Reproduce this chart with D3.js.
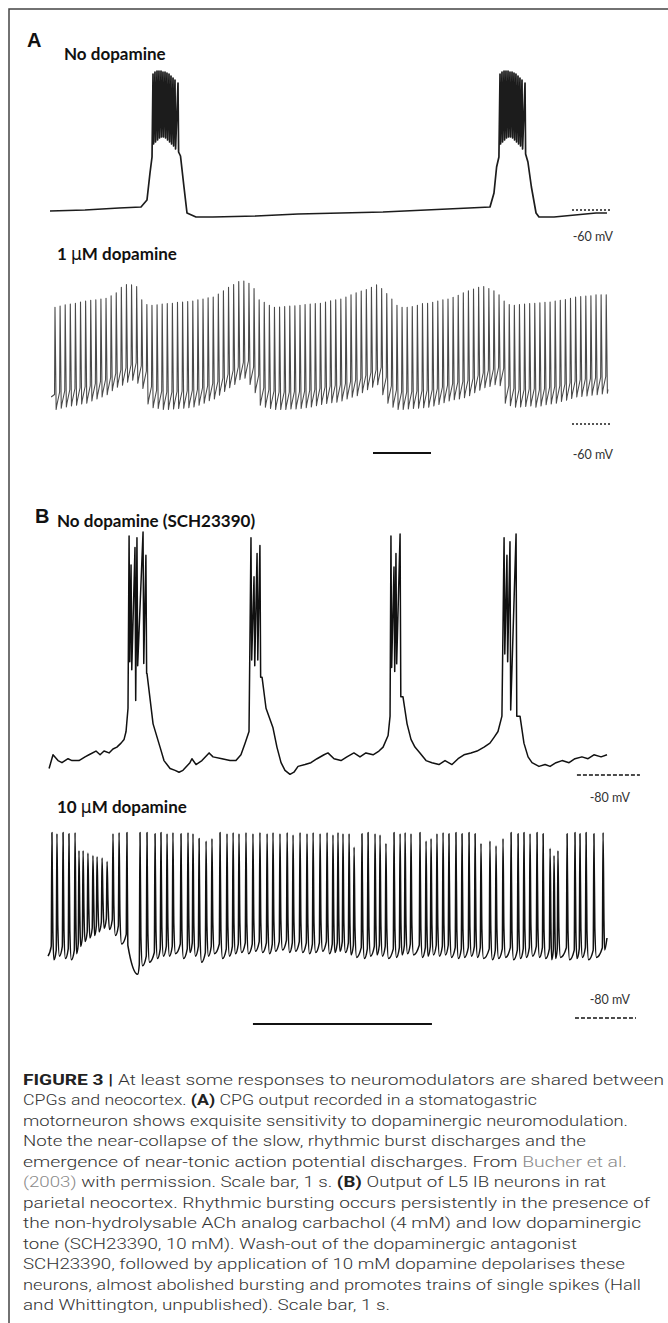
<!DOCTYPE html>
<html>
<head>
<meta charset="utf-8">
<script src="https://d3js.org/d3.v7.min.js"></script>
<style>
html, body { margin: 0; padding: 0; background: #fff; }
svg { display: block; }
</style>
</head>
<body>
<div id="fig"></div>
<script>
// --- A, top trace: no dopamine. slow membrane potential [ms, mV]
var a1Slow = [[0,-60.5],[603,-60],[1190,-59],[1569,-58.5],[1672,-55],[1724,-41.5],[1759,-33.5],
    [2250,-33],[2310,-48.5],[2362,-61.5],[2517,-63.5],[2810,-63.5],[3552,-63],[4276,-62],[5017,-61.5],
    [5741,-61],[6483,-60],[7224,-59],[7586,-58.5],[7655,-51.5],[7700,-38.5],[7740,-33.5],
    [8240,-36],[8300,-48.5],[8380,-61.5],[8431,-63.5],[8690,-63.5],[9052,-62.5],[9414,-61.5],[9603,-61.5]];
// burst spikes [ms, peak mV, trough mV]
var a1Burst1 = [[1776,8,-27],[1810,9,-26],[1845,9.5,-25],[1879,9.5,-24],[1914,9.5,-23.5],[1948,9,-23.5],
    [1983,9,-24],[2017,8.5,-25],[2052,8,-26],[2086,7,-27],[2121,6,-28],[2155,5,-29.5],[2207,3.5,-31]];
var a1Burst2 = [[7759,8,-27],[7793,9,-26],[7828,9.5,-25],[7862,9.5,-24],[7897,9.5,-23.5],[7931,9,-23.5],
    [7966,9,-24],[8000,8.5,-25],[8034,8,-26],[8069,7,-27],[8103,6,-28],[8138,5,-29.5],[8190,3.5,-32]];

// --- A, bottom trace: 1 uM dopamine, tonic spiking
var a2Times = [86,174,262,350,438,526,614,702,790,878,
    966,1054,1142,1230,1318,1406,1494,1582,1670,1758,
    1846,1934,2022,2110,2198,2286,2374,2462,2550,2638,
    2726,2814,2902,2990,3078,3166,3254,3342,3430,3518,
    3606,3694,3782,3870,3958,4046,4134,4222,4310,4398,
    4486,4574,4662,4750,4838,4926,5014,5102,5190,5278,
    5366,5454,5542,5630,5718,5806,5894,5982,6070,6158,
    6246,6334,6422,6510,6598,6686,6774,6862,6950,7038,
    7126,7214,7302,7390,7478,7566,7654,7742,7830,7918,
    8006,8094,8182,8270,8358,8446,8534,8622,8710,8798,
    8886,8974,9062,9150,9238,9326,9414,9502,9590];
var a2Peaks = [-13.3,-12.8,-12.3,-12.0,-11.7,-11.2,-10.8,-10.5,-10.3,-10.0,
    -9.7,-8.7,-7.5,-5.3,-4.2,-4.3,-5.0,-10.3,-12.2,-12.5,
    -12.3,-12.0,-11.8,-11.7,-11.3,-11.2,-11.0,-10.8,-10.3,-10.0,
    -9.5,-9.2,-8.0,-6.7,-5.3,-4.2,-3.0,-2.8,-3.7,-5.8,
    -10.3,-11.3,-12.5,-13.3,-13.2,-13.0,-12.8,-12.7,-12.5,-12.2,
    -12.0,-11.8,-11.7,-11.2,-10.7,-10.3,-10.0,-9.2,-8.3,-7.5,
    -6.8,-6.2,-5.3,-4.3,-5.8,-7.8,-10.0,-12.5,-13.3,-13.3,
    -13.0,-12.5,-11.8,-11.7,-11.3,-10.8,-10.3,-10.0,-9.3,-8.5,
    -7.5,-6.7,-6.0,-5.3,-5.0,-5.8,-6.7,-8.3,-10.8,-12.2,
    -12.5,-12.2,-12.0,-11.8,-11.7,-11.5,-11.3,-11.2,-10.8,-10.5,
    -10.2,-9.7,-9.2,-9.0,-8.8,-8.7,-8.3,-8.3,-8.3];
var a2Troughs = [-54.2,-53.7,-53.2,-52.8,-52.5,-52.0,-51.7,-50.8,-50.0,-49.2,
    -48.3,-46.7,-45.3,-44.5,-43.3,-42.5,-43.7,-45.8,-52.0,-53.5,
    -53.8,-54.2,-54.2,-54.0,-53.8,-53.7,-53.5,-53.2,-52.5,-51.7,
    -50.7,-50.0,-48.5,-47.0,-45.5,-44.2,-42.3,-41.7,-44.2,-47.5,
    -52.5,-53.3,-53.8,-54.2,-54.2,-54.2,-54.0,-54.0,-53.8,-53.5,
    -53.2,-52.7,-52.2,-51.8,-51.5,-51.3,-50.8,-50.0,-49.3,-48.7,
    -47.5,-46.3,-45.3,-44.3,-48.3,-51.7,-53.3,-54.2,-54.2,-54.0,
    -53.8,-53.7,-53.5,-53.3,-52.8,-52.2,-51.5,-50.8,-50.3,-50.0,
    -49.5,-48.7,-47.5,-46.5,-45.5,-45.0,-44.3,-44.7,-51.7,-52.7,
    -53.3,-53.2,-53.0,-52.8,-53.3,-52.8,-52.3,-52.0,-51.7,-51.0,
    -50.5,-49.8,-49.2,-49.0,-48.8,-48.5,-48.3,-48.0,-47.7];

// --- B, top trace: no dopamine (SCH23390), slow potential [ms, mV]
var b1Slow = [[6,-77.2],[28,-71.3],[56,-73.8],[78,-74.7],[112,-73],[134,-73.8],[173,-73.8],[207,-72.2],
    [229,-71.3],[268,-69.7],[291,-71.3],[313,-69.7],[341,-70.5],[363,-68.8],[385,-68],[408,-66.3],
    [425,-64.7],[436,-61.3],[447,-51.3],
    [553,-36.3],[587,-58],[626,-68],[648,-73.8],[682,-77.2],[710,-78],[732,-78.8],[754,-78],[793,-74.7],
    [804,-73],[827,-75.5],[860,-73.8],[900,-70.5],[922,-72.2],[972,-73],[1017,-73.8],[1050,-73.8],
    [1078,-71.3],[1101,-66.3],[1123,-61.3],
    [1196,-38],[1218,-51.3],[1257,-59.7],[1279,-68],[1302,-74.7],[1324,-78],[1352,-79.7],[1374,-78.8],
    [1397,-76.3],[1436,-75.5],[1469,-74.7],[1503,-73],[1542,-71.3],[1564,-70.5],[1598,-73],[1637,-73.8],
    [1670,-72.2],[1709,-70.5],[1743,-72.2],[1776,-70.5],[1816,-71.3],[1849,-69.7],[1872,-68],[1900,-63],
    [1911,-54.7],
    [1983,-46.3],[2006,-58],[2028,-64.7],[2050,-68],[2078,-70.5],[2112,-73.8],[2145,-74.7],[2184,-75.5],
    [2218,-73.8],[2257,-75.5],[2291,-73],[2324,-71.3],[2363,-70.5],[2397,-69.7],[2436,-68],[2469,-66.3],
    [2492,-63.8],[2514,-61.3],[2536,-54.7],
    [2637,-54.7],[2659,-66.3],[2682,-72.2],[2704,-74.7],[2743,-76.3],[2777,-75.5],[2805,-76.3],[2838,-74.7],
    [2872,-73.8],[2911,-74.7],[2944,-73],[2983,-72.2],[3017,-73],[3050,-71.3],[3090,-72.2],[3123,-71.3]];
var b1Burst1 = [[453,22.8,-31.3],[464,10.3,-34.7],[486,17.8,-48],[497,22,-33],[531,24.5,-32],[547,14.5,-36.3]];
var b1Burst2 = [[1134,22,-30.5],[1151,5.3,-33],[1168,15.3,-30.5],[1184,18.7,-38]];
var b1Burst3 = [[1916,22.8,-33.8],[1933,9.5,-35.5],[1944,15.3,-32.2],[1967,23.7,-46.3]];
var b1Burst4 = [[2548,22,-28],[2564,14.5,-31.3],[2581,20.3,-52],[2615,23.7,-54.7]];

// --- B, bottom trace: 10 uM dopamine, single spikes [ms, peak mV, AHP trough mV]
var b2Spikes = [[22,-3.5,-56],[50,-4,-54.5],[84,-3.5,-55.5],[117,-4,-56],[151,-3.5,-53.5],
    [173,-11,-50.5],[196,-11,-48.5],[223,-12,-47],[251,-13,-46],[274,-13.5,-44.5],[302,-14,-43],[330,-15.5,-43.5],
    [363,-4,-46],[397,-3.5,-49.5],[441,-3.5,-62],[514,-3.5,-58.5],[553,-3.5,-57],[598,-4,-55.5],
    [631,-3.5,-54.5],[665,-4,-54.5],[698,-3.5,-53.5],[743,-4,-55.5],[782,-3.5,-53],[810,-4,-54.5],
    [844,-6,-57],[883,-7,-54.5],[916,-6,-53.5],[961,-3.5,-55.5],[1000,-4,-54.5],[1034,-3.5,-53.5],
    [1067,-4,-53],[1106,-3.5,-53.5],[1145,-4,-52.5],[1184,-3.5,-53],[1224,-4,-53.5],[1257,-3.5,-52.5],
    [1296,-4,-52],[1336,-3.5,-53],[1369,-4.5,-52.5],[1408,-3.5,-53],[1447,-4,-53.5],[1481,-3.5,-53],
    [1520,-4,-52.5],[1559,-3.5,-53.5],[1592,-4.5,-53],[1620,-3.5,-52.5],[1648,-4,-53],[1682,-4,-54],
    [1710,-9.5,-55],[1754,-4,-55.5],[1788,-3.5,-54.5],[1827,-4,-54],[1855,-4.5,-54.5],[1888,-8,-55.5],
    [1933,-3.5,-55],[1967,-4,-54],[1995,-3.5,-53.5],[2028,-4,-54],[2078,-3.5,-55],[2112,-7,-54.5],
    [2140,-6,-54],[2173,-4,-54.5],[2207,-3.5,-54],[2240,-4,-55],[2279,-3.5,-55.5],[2313,-4,-55],
    [2352,-3.5,-54.5],[2386,-4,-55],[2419,-8,-55.5],[2469,-7,-56],[2503,-9,-55.5],[2542,-6,-55],
    [2587,-3.5,-56],[2626,-4,-55.5],[2659,-3.5,-55],[2693,-4,-54.5],[2732,-3.5,-55],[2766,-4,-55.5],
    [2805,-10,-56],[2827,-13,-55.5],[2849,-11,-55],[2900,-4,-56],[2944,-3.5,-55.5],[2972,-4,-55],
    [3006,-3.5,-56],[3050,-4,-55],[3101,-3.5,-52]];
var b2Start = [0, -54.5];
var b2End = [3123, -47];

// --- text
var panelLabels = ["A", "B"];
var traceLabels = [["No dopamine"], ["1 ", "\u03bc", "M dopamine"],
    ["No dopamine (SCH23390)"], ["10 ", "\u03bc", "M dopamine"]];
var levelLabels = ["-60 mV", "-60 mV", "-80 mV", "-80 mV"];
var levelValues = [-60, -60, -80, -80];
var captionLines = [
    [["b", "FIGURE 3 | "], ["n", "At least some responses to neuromodulators are shared between"]],
    [["n", "CPGs and neocortex. "], ["b", "(A)"], ["n", " CPG output recorded in a stomatogastric"]],
    [["n", "motorneuron shows exquisite sensitivity to dopaminergic neuromodulation."]],
    [["n", "Note the near-collapse of the slow, rhythmic burst discharges and the"]],
    [["n", "emergence of near-tonic action potential discharges. From "], ["g", "Bucher et al."]],
    [["g", "(2003)"], ["n", " with permission. Scale bar, 1 s. "], ["b", "(B)"], ["n", " Output of L5 IB neurons in rat"]],
    [["n", "parietal neocortex. Rhythmic bursting occurs persistently in the presence of"]],
    [["n", "the non-hydrolysable ACh analog carbachol (4 mM) and low dopaminergic"]],
    [["n", "tone (SCH23390, 10 mM). Wash-out of the dopaminergic antagonist"]],
    [["n", "SCH23390, followed by application of 10 mM dopamine depolarises these"]],
    [["n", "neurons, almost abolished bursting and promotes trains of single spikes (Hall"]],
    [["n", "and Whittington, unpublished). Scale bar, 1 s."]]
];
var captionEnds = [664, 537, 628, 586, 627, 606, 650, 641, 577, 625, 641, 390];

// ---------------------------------------------------------------
var W = 668, H = 1323;

var svg = d3.select("#fig").append("svg")
    .attr("width", W).attr("height", H);

// frame (top and left rule)
svg.append("path").attr("d", "M9,1323 V9 H668")
    .attr("fill", "none").attr("stroke", "#444").attr("stroke-width", 1.5);

// scales: time in ms, potential in mV
var xA = d3.scaleLinear().domain([0, 9600]).range([50, 606.8]);
var xB = d3.scaleLinear().domain([0, 3123]).range([48, 607]);
var yA1 = d3.scaleLinear().domain([-60, 0]).range([210, 90]);
var yA2 = d3.scaleLinear().domain([-60, 0]).range([424, 274]);
var yB1 = d3.scaleLinear().domain([-80, 0]).range([775, 589]);
var yB2 = d3.scaleLinear().domain([-80, 0]).range([1018, 824]);

function burstPoints(slow, bursts, fall) {
    var pts = slow.slice();
    bursts.forEach(function(b) {
        b.forEach(function(s) {
            pts.push([s[0], s[1]], [s[0] + fall, s[2]]);
        });
    });
    return pts.sort(function(p, q) { return p[0] - q[0]; });
}

function drawTrace(pts, x, y, color, width, curve) {
    var line = d3.line()
        .x(function(d) { return x(d[0]); })
        .y(function(d) { return y(d[1]); })
        .curve(curve || d3.curveLinear);
    svg.append("path")
        .attr("d", line(pts))
        .attr("fill", "none")
        .attr("stroke", color)
        .attr("stroke-width", width)
        .attr("stroke-linejoin", "round");
}

// A1
drawTrace(burstPoints(a1Slow, [a1Burst1, a1Burst2], 10), xA, yA1, "#1c1c1c", 1.7);

// A2: sawtooth of spikes with a ramp between them
var a2 = [[20, a2Troughs[0] + 5]];
a2Times.forEach(function(t, i) {
    var thr = i === 0 ? a2Troughs[0] + 6 : a2Troughs[i - 1] + 7;
    a2.push([t - 8, thr], [t, a2Peaks[i]], [t + 20, a2Troughs[i]], [t + 30, a2Troughs[i] + 1.5]);
});
drawTrace(a2, xA, yA2, "#4a4a4a", 1.1);

// B1
drawTrace(burstPoints(b1Slow, [b1Burst1, b1Burst2, b1Burst3, b1Burst4], 4), xB, yB1, "#111", 1.5);

// B2
var b2 = [b2Start];
b2Spikes.forEach(function(s, i) {
    var prev = i === 0 ? b2Start[1] : b2Spikes[i - 1][2];
    var next = i < b2Spikes.length - 1 ? b2Spikes[i + 1][0] : b2End[0];
    var tDelay = Math.min(14, (next - s[0]) * 0.4);
    if (i === 14) tDelay = 60;
    b2.push([s[0] - 4, prev + 4], [s[0], s[1]], [s[0] + 5, s[2] + 12], [s[0] + tDelay, s[2]]);
});
b2.push(b2End);
drawTrace(b2, xB, yB2, "#111", 1.5, d3.curveMonotoneX);

// reference levels
var levelRows = [
    { x: xA, y: yA1, t0: 9000, t1: 9655, dash: "2,2", col: "#555", w: 2, tx: 613, dy: 31 },
    { x: xA, y: yA2, t0: 9000, t1: 9655, dash: "2,2", col: "#555", w: 2, tx: 613, dy: 35 },
    { x: xB, y: yB1, t0: 2955, t1: 3307, dash: "4,2", col: "#111", w: 1.5, tx: 630, dy: 27 },
    { x: xB, y: yB2, t0: 2944, t1: 3285, dash: "4,2", col: "#111", w: 1.5, tx: 630, dy: -14 }
];
levelRows.forEach(function(r, i) {
    var yy = r.y(levelValues[i]);
    svg.append("line")
        .attr("x1", r.x(r.t0)).attr("x2", r.x(r.t1))
        .attr("y1", yy).attr("y2", yy)
        .attr("stroke", r.col).attr("stroke-width", r.w)
        .attr("stroke-dasharray", r.dash);
    svg.append("text")
        .attr("x", r.tx)
        .attr("y", yy + r.dy)
        .attr("text-anchor", "end")
        .attr("font-family", "Lato, 'Open Sans', sans-serif")
        .attr("font-size", 12.5)
        .attr("fill", "#333")
        .text(levelLabels[i]);
});

// scale bars, 1 s each
svg.append("line")
    .attr("x1", xA(5569)).attr("x2", xA(6569)).attr("y1", 453).attr("y2", 453)
    .attr("stroke", "#111").attr("stroke-width", 2);
svg.append("line")
    .attr("x1", xB(1145)).attr("x2", xB(2145)).attr("y1", 1024).attr("y2", 1024)
    .attr("stroke", "#111").attr("stroke-width", 2);

// panel letters and trace titles
var labelFont = "Lato, 'Open Sans', sans-serif";
[[27, 47], [35, 523]].forEach(function(p, i) {
    svg.append("text").attr("x", p[0]).attr("y", p[1])
        .attr("font-family", "'Liberation Sans', Arial, sans-serif")
        .attr("font-weight", 700).attr("font-size", 20).attr("fill", "#111")
        .text(panelLabels[i]);
});
[[64, 60], [57, 260], [57, 527], [57, 813]].forEach(function(p, i) {
    var t = svg.append("text").attr("x", p[0]).attr("y", p[1])
        .attr("font-family", labelFont)
        .attr("font-weight", 700).attr("font-size", 17).attr("fill", "#111");
    traceLabels[i].forEach(function(s) {
        var ts = t.append("tspan").text(s);
        if (s === "\u03bc") ts.attr("font-family", "'DejaVu Sans', sans-serif").attr("font-weight", 400);
    });
});

// caption
var styles = {
    b: { w: 700, c: "#222" },
    n: { w: 300, c: "#333" },
    g: { w: 300, c: "#8a8a8a" }
};
captionLines.forEach(function(segs, i) {
    var t = svg.append("text")
        .attr("x", 23)
        .attr("y", 1085 + i * 20.45)
        .attr("font-family", "Roboto, 'Liberation Sans', sans-serif")
        .attr("font-size", 15.5)
        .attr("textLength", captionEnds[i] - 23)
        .attr("lengthAdjust", "spacingAndGlyphs");
    segs.forEach(function(s) {
        t.append("tspan")
            .attr("font-weight", styles[s[0]].w)
            .attr("fill", styles[s[0]].c)
            .text(s[1]);
    });
});
</script>
</body>
</html>
